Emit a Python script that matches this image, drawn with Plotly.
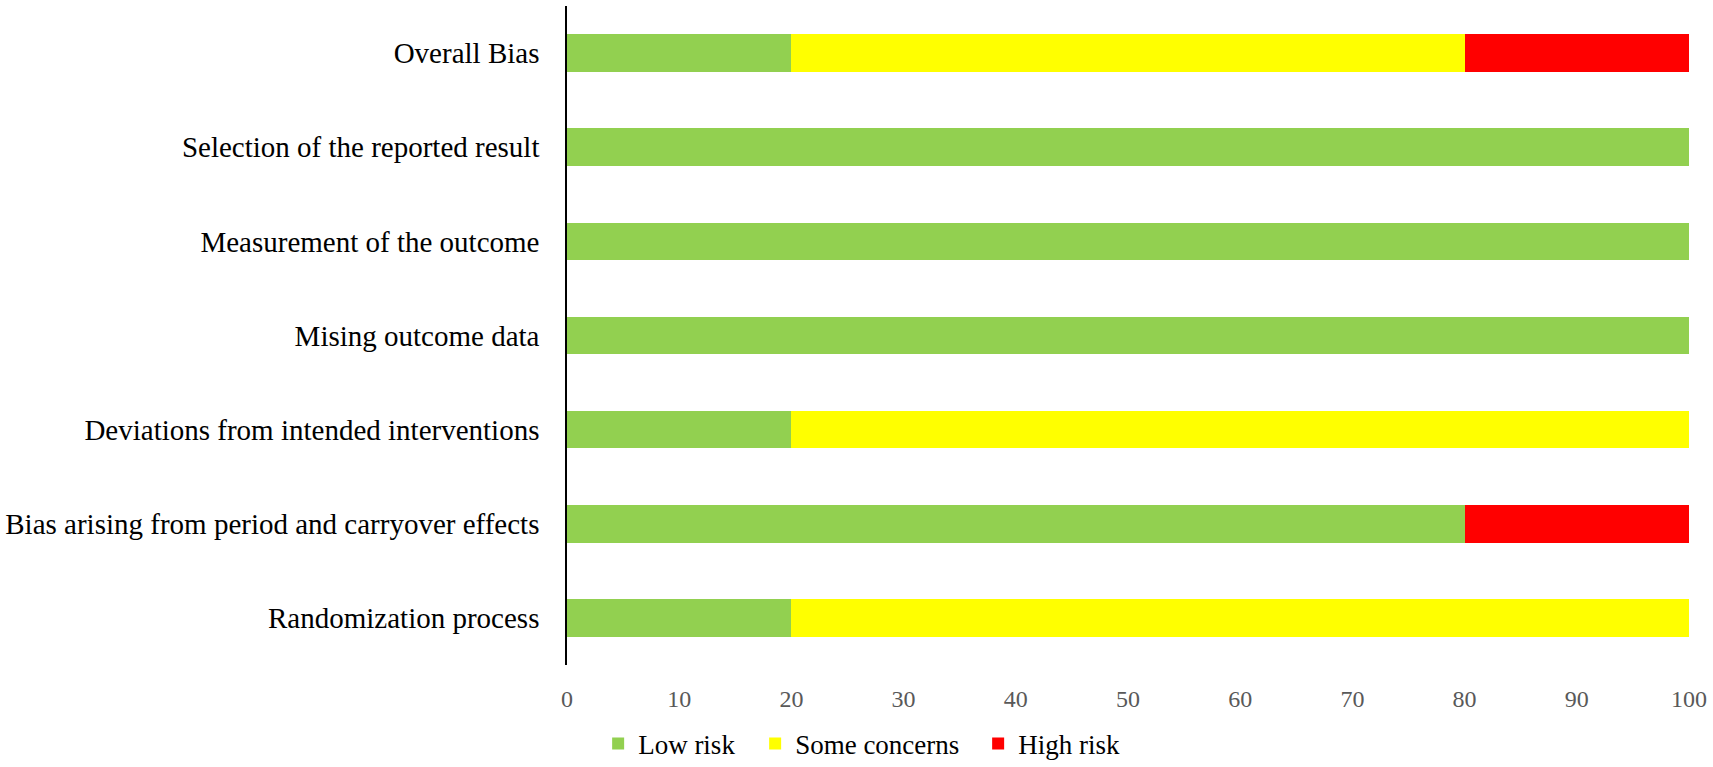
import plotly.graph_objects as go

categories = [
    "Randomization process",
    "Bias arising from period and carryover effects",
    "Deviations from intended interventions",
    "Mising outcome data",
    "Measurement of the outcome",
    "Selection of the reported result",
    "Overall Bias",
]
low_risk = [20, 80, 20, 100, 100, 100, 20]
some_concerns = [80, 0, 80, 0, 0, 0, 60]
high_risk = [0, 20, 0, 0, 0, 0, 20]

# name, values, colour, legend entry width (px)
series = [
    ("Low risk", low_risk, "#92D050", 112),
    ("Some concerns", some_concerns, "#FFFF00", 178),
    ("High risk", high_risk, "#FF0000", None),
]

fig = go.Figure()
for name, values, color, lw in series:
    fig.add_trace(go.Bar(
        y=categories, x=values, name=name, orientation="h",
        marker=dict(color=color, line=dict(width=0)),
        legendwidth=lw,
    ))

fig.update_layout(
    barmode="stack",
    bargap=0.6,
    width=1713,
    height=767,
    plot_bgcolor="white",
    paper_bgcolor="white",
    margin=dict(l=567, r=24, t=6, b=102),
    font=dict(family="Liberation Serif", size=27, color="black"),
    legend=dict(
        orientation="h", xref="container", x=0.503, xanchor="center",
        yref="container", y=0.03, yanchor="middle",
        font=dict(size=27), traceorder="normal",
    ),
)
fig.update_xaxes(
    range=[0, 100], dtick=10, showgrid=False, zeroline=False, showline=False,
    tickfont=dict(size=24, color="#595959"), ticklabelstandoff=17,
)
fig.update_yaxes(
    showline=True, linecolor="black", linewidth=1.5, showgrid=False,
    tickfont=dict(size=29, color="black"), ticklabelstandoff=20,
)

# page margin would push the 1713x767 figure out of the window
fig.write_html(
    "out.html",
    config={"displayModeBar": False},
    post_script="document.body.style.margin='0';document.body.style.overflow='hidden';",
)
